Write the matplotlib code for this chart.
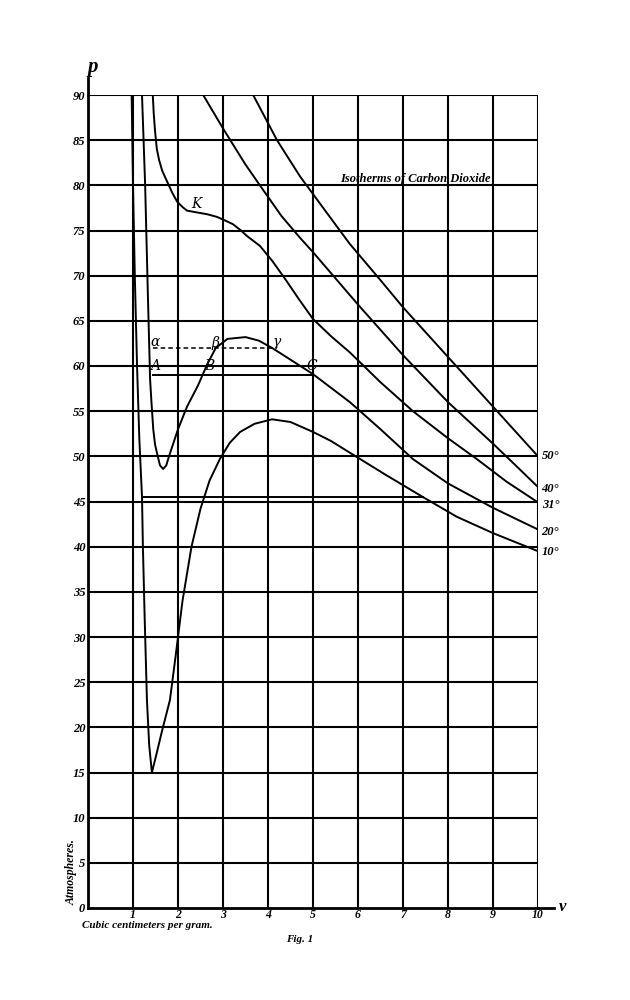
import matplotlib
matplotlib.use("Agg")
import matplotlib.pyplot as plt

# isotherms (v in cc/g, p in atmospheres)
t10_v = [0.97, 1.0, 1.04, 1.09, 1.14, 1.20, 1.22, 1.26, 1.31, 1.36, 1.42, 1.52, 1.64, 1.82, 1.95, 2.1,
         2.3, 2.5, 2.7, 2.93, 3.15, 3.38, 3.7, 4.09, 4.5, 5.0, 5.4, 5.82, 6.6, 7.44, 8.2, 9.0, 10.0]
t10_p = [90, 80, 70, 60, 52, 45.5, 40, 32, 23, 18, 15, 17, 19.5, 23, 28, 34,
         40, 44.2, 47.3, 49.7, 51.5, 52.7, 53.6, 54.1, 53.8, 52.7, 51.7, 50.4, 48.0, 45.5, 43.3, 41.5, 39.5]

t20_v = [1.2, 1.27, 1.33, 1.38, 1.41, 1.45, 1.49, 1.55, 1.60, 1.67, 1.74, 1.8, 2.0, 2.2, 2.44, 2.65,
         2.84, 3.1, 3.5, 3.8, 4.09, 4.5, 5.0, 5.82, 6.5, 7.22, 8.0, 9.0, 10.0]
t20_p = [90, 80, 68, 58.5, 56, 53, 51.3, 50, 49.0, 48.6, 49.0, 50, 53, 55.5, 57.8, 60.2,
         62, 63, 63.2, 62.8, 62, 60.7, 59.1, 56, 53, 49.7, 47, 44.3, 41.9]

t31_v = [1.44, 1.46, 1.49, 1.53, 1.58, 1.65, 1.76, 1.87, 1.98, 2.1, 2.2, 2.42, 2.65, 2.87, 3.05, 3.22,
         3.4, 3.53, 3.82, 4.1, 4.4, 4.7, 5.0, 5.4, 5.82, 6.5, 7.22, 8.0, 8.64, 9.3, 10.0]
t31_p = [90, 88, 86, 84, 82.8, 81.6, 80.4, 79.2, 78.2, 77.6, 77.2, 77.0, 76.8, 76.5, 76.1, 75.7,
         75, 74.4, 73.3, 71.6, 69.5, 67.3, 65.2, 63.3, 61.5, 58.2, 55, 52, 49.7, 47.2, 44.9]

t40_v = [2.56, 3.0, 3.5, 3.82, 4.3, 4.71, 5.0, 6.0, 7.0, 8.0, 9.0, 9.44, 10.0]
t40_p = [90, 86.3, 82.3, 80, 76.6, 74.2, 72.6, 66.8, 61.2, 56.0, 51.4, 49.3, 46.6]

t50_v = [3.67, 4.2, 4.71, 5.3, 5.82, 6.5, 7.0, 8.0, 9.0, 10.0]
t50_p = [90, 85, 81, 77, 73.5, 69.5, 66.5, 61, 55.5, 50.0]

temps = ["50°", "40°", "31°", "20°", "10°"]
label_p = [50.0, 46.4, 44.6, 41.6, 39.4]

x_ticks = list(range(1, 11))
y_ticks = list(range(0, 95, 5))

# horizontal pieces: (p, v_start, v_end)
dashed_p, dashed_v0, dashed_v1 = 62.0, 1.45, 4.09
abc_p, abc_v0, abc_v1 = 59.0, 1.45, 5.0
low_p, low_v0, low_v1 = 45.5, 1.2, 7.44

fnt = dict(family="Liberation Serif", style="italic", weight="bold")

fig = plt.figure(figsize=(6.3, 10), dpi=100)
ax = fig.add_axes([88 / 630, 1 - 908 / 1000, 450 / 630, 813 / 1000])
ax.set_xlim(0, 10)
ax.set_ylim(0, 90)

for x in x_ticks:
    ax.axvline(x, color="black", lw=1.5, zorder=1)
for y in y_ticks[1:]:
    ax.axhline(y, color="black", lw=1.5, zorder=1)

for s in ["top", "right"]:
    ax.spines[s].set_visible(False)
ax.spines["left"].set_linewidth(2)
ax.spines["bottom"].set_linewidth(2)
ax.tick_params(length=0)
ax.tick_params(axis="x", pad=1)
ax.tick_params(axis="y", pad=2)
ax.set_xticks(x_ticks)
ax.set_yticks(y_ticks)
ax.set_xticklabels([str(v) for v in x_ticks], fontsize=8.5, **fnt)
ax.set_yticklabels([str(v) for v in y_ticks], fontsize=9, **fnt)

# extend the axes past the frame
ax.plot([0, 0], [90, 91.9], color="black", lw=2, clip_on=False)
ax.plot([10, 10.35], [0, 0], color="black", lw=2, clip_on=False)
ax.text(0.1, 93.1, "p", fontsize=15, ha="center", va="center", clip_on=False, **fnt)
ax.text(10.55, 0.1, "v", fontsize=12, ha="center", va="center", clip_on=False, **fnt)

for vs, ps in [(t10_v, t10_p), (t20_v, t20_p), (t31_v, t31_p), (t40_v, t40_p), (t50_v, t50_p)]:
    ax.plot(vs, ps, color="black", lw=1.4, zorder=3)

ax.plot([dashed_v0, dashed_v1], [dashed_p, dashed_p], color="black", lw=1.1, ls=(0, (3, 2)), zorder=3)
ax.plot([abc_v0, abc_v1], [abc_p, abc_p], color="black", lw=1.4, zorder=3)
ax.plot([low_v0, low_v1], [low_p, low_p], color="black", lw=1.4, zorder=3)

for t, p in zip(temps, label_p):
    ax.text(10.08, p, t, fontsize=9, ha="left", va="center", clip_on=False, **fnt)

pt_labels = ["K", "α", "β", "γ", "A", "B", "C"]
pt_v = [2.42, 1.49, 2.84, 4.2, 1.49, 2.69, 4.98]
pt_p = [77.9, 62.7, 62.5, 62.7, 60.0, 60.0, 60.0]
for t, v, p in zip(pt_labels, pt_v, pt_p):
    ax.text(v, p, t, fontsize=10, ha="center", va="center", family="DejaVu Serif", style="italic")

ax.text(7.27, 80.7, "Isotherms of Carbon Dioxide", fontsize=9, ha="center", va="center", **fnt)

fig.text(72 / 630, 1 - 872 / 1000, "Atmospheres.", rotation=90, fontsize=8.5, ha="center", va="center", **fnt)
fig.text(82 / 630, 1 - 925 / 1000, "Cubic centimeters per gram.", fontsize=8, ha="left", va="center", **fnt)
fig.text(300 / 630, 1 - 940 / 1000, "Fig. 1", fontsize=8, ha="center", va="center", **fnt)

fig.savefig("out.png", dpi=100, facecolor="white")
